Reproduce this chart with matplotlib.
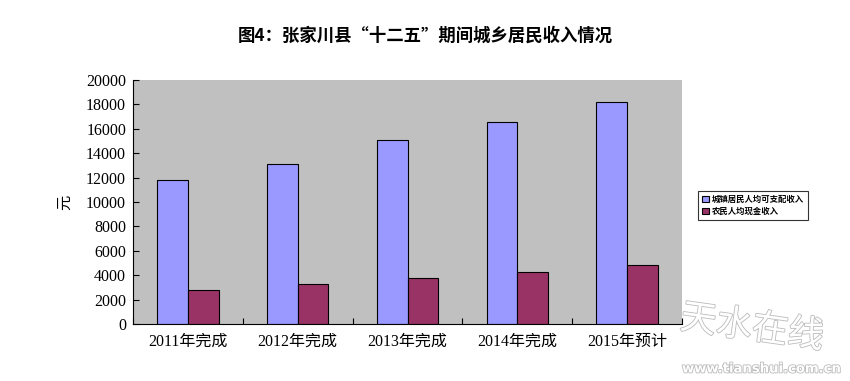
import matplotlib
matplotlib.use('Agg')
import matplotlib.pyplot as plt
import matplotlib.patheffects as pe
import numpy as np

plt.rcParams['font.family'] = ['Liberation Serif', 'Noto Sans CJK SC']

# data
years = ['2011年完成', '2012年完成', '2013年完成', '2014年完成', '2015年预计']
urban = [11800, 13150, 15100, 16550, 18200]
rural = [2800, 3300, 3800, 4250, 4800]
series_names = ['城镇居民人均可支配收入', '农民人均现金收入']
yticks = list(range(0, 20001, 2000))

fig = plt.figure(figsize=(8.5, 3.81), dpi=100)
ax = fig.add_axes([133/850, 57/381, 549/850, 244/381])
ax.set_facecolor('#C0C0C0')

x = np.arange(len(years))
w = 0.28
ax.bar(x - w/2, urban, width=w, color='#9999FF', edgecolor='black', linewidth=0.8, label=series_names[0])
ax.bar(x + w/2, rural, width=w, color='#993366', edgecolor='black', linewidth=0.8, label=series_names[1])

ax.set_xlim(-0.5, len(years) - 0.5)
ax.set_ylim(0, 20000)
ax.set_yticks(yticks)
ax.set_yticklabels([str(v) for v in yticks], fontsize=11.5)
ax.set_xticks(x)
ax.set_xticklabels(years, fontsize=11.5)
ax.set_xticks(np.arange(-0.5, len(years)), minor=True)
ax.tick_params(axis='x', which='major', length=0, pad=7)
ax.tick_params(axis='x', which='minor', direction='in', length=4, width=0.8)
ax.tick_params(axis='y', direction='in', length=4, width=0.8, pad=5)
for s in ['top', 'right']:
    ax.spines[s].set_visible(False)
for s in ['left', 'bottom']:
    ax.spines[s].set_linewidth(0.8)

ax.set_ylabel('元', fontsize=11, labelpad=10)

fig.text(0.5, 1 - 36/381, '图4：张家川县“十二五”期间城乡居民收入情况', ha='center', va='center',
         fontsize=12.5, fontweight='bold', family=['Noto Sans CJK SC'])

leg = fig.legend(loc='upper left', bbox_to_anchor=(694/850, 1 - 187/381),
                 frameon=True, fancybox=False, edgecolor='black', handlelength=0.8, handleheight=0.8,
                 handletextpad=0.4, borderpad=0.45, labelspacing=0.35,
                 prop={'family': ['Noto Sans CJK SC'], 'size': 6, 'weight': 'bold'})
leg.get_frame().set_linewidth(0.8)

# watermark
wm = fig.text(752/850, 1 - 328/381, '天水在线', ha='center', va='center', fontsize=26, color='white',
              family=['Noto Sans CJK SC'], rotation=-8, style='italic')
wm.set_path_effects([pe.withStroke(linewidth=1.2, foreground='#bbbbbb')])
wm2 = fig.text(762/850, 1 - 369/381, 'www.tianshui.com.cn', ha='center', va='center', fontsize=9.5,
               color='white', fontweight='bold', family=['DejaVu Sans'])
wm2.set_path_effects([pe.withStroke(linewidth=1.2, foreground='#bbbbbb')])

fig.savefig('out.png', dpi=100)
